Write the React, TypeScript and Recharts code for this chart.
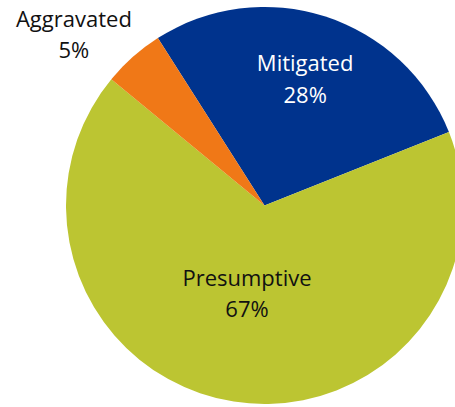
import { PieChart, Pie, Cell } from "recharts";

const categories = ["Mitigated", "Presumptive", "Aggravated"];
const shares = [28, 67, 5];
const colors = ["#00338D", "#BCC532", "#F07817"];
const textColors = ["#FFFFFF", "#111111", "#111111"];

// label placement relative to each slice: radius factor and angle shift
const labelRadius = [0.666, 0.454, 1.288];
const labelShift = [0, -2.3, 6.7];

const data = categories.map((name, i) => ({ name, value: shares[i] }));

const RAD = Math.PI / 180;

function renderLabel(props: any) {
    const { cx, cy, midAngle, outerRadius, index, name, value } = props;
    const r = outerRadius * labelRadius[index];
    const a = (midAngle + labelShift[index]) * RAD;
    const x = cx + r * Math.cos(a);
    const y = cy - r * Math.sin(a);
    return (
        <text
            x={x}
            y={y}
            textAnchor="middle"
            fill={textColors[index]}
            style={{ fontFamily: "Open Sans", fontSize: 22 }}
        >
            <tspan x={x} dy={-8.3}>{name}</tspan>
            <tspan x={x} dy={31.5}>{value}%</tspan>
        </text>
    );
}

export default function App() {
    return (
        <div style={{ position: "absolute", left: 0, top: 0, width: 455, height: 407, background: "#fff" }}>
            <PieChart width={455} height={407} margin={{ top: 0, right: 0, bottom: 0, left: 0 }}>
                <Pie
                    data={data}
                    dataKey="value"
                    nameKey="name"
                    cx={264.5}
                    cy={205.5}
                    outerRadius={198.5}
                    startAngle={122.5}
                    endAngle={-237.5}
                    stroke="none"
                    label={renderLabel}
                    labelLine={false}
                    isAnimationActive={false}
                >
                    {data.map((d, i) => (
                        <Cell key={d.name} fill={colors[i]} />
                    ))}
                </Pie>
            </PieChart>
        </div>
    );
}
